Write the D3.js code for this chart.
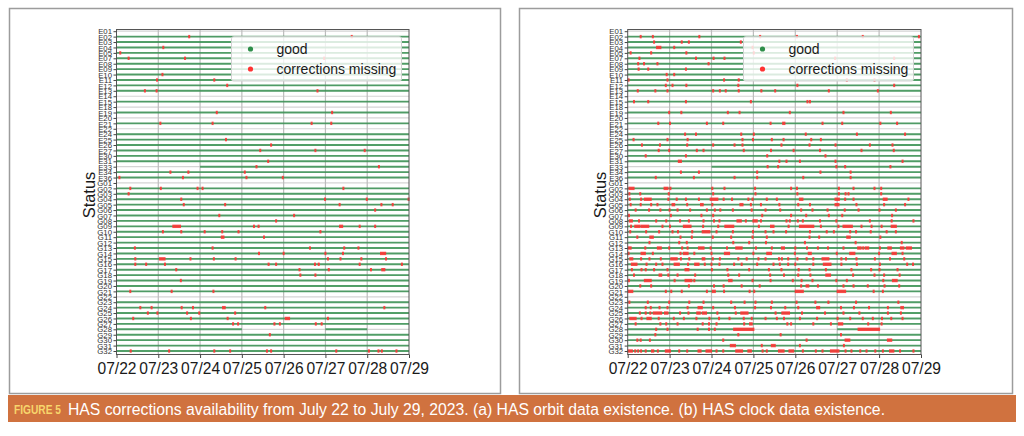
<!DOCTYPE html>
<html><head><meta charset="utf-8">
<script src="https://cdn.jsdelivr.net/npm/d3@7"></script>
<style>body{margin:0;background:#fff}svg{display:block}text{font-family:"Liberation Sans",Arial,sans-serif}</style>
</head><body><svg id="c" width="1024" height="436"></svg>
<script>
// ---------------- DATA ----------------
const dayLabels = ["07/22","07/23","07/24","07/25","07/26","07/27","07/28","07/29"];
const rowLabels = ["E01","E02","E03","E04","E05","E07","E08","E09","E10","E11","E12","E13","E14","E15","E18","E19","E20","E21","E22","E24","E25","E26","E27","E30","E31","E33","E34","E36",
 "G01","G02","G03","G04","G05","G06","G07","G08","G09","G10","G11","G12","G13","G14","G15","G16","G17","G18","G19","G20","G21","G22","G23","G24","G25","G26","G27","G28","G29","G30","G31","G32"];
// rows without any data, and rows with only partial coverage (days since 07/22)
const emptyRows = ["E01","E14","E18","E20","E22","G01","G22"];
const partialRows = {E33: [[2,7]], G28: [[0,3],[5,6]]};
const legendLabels = ["good","corrections missing"];
const captionTag = "FIGURE 5";
const captionText = "HAS corrections availability from July 22 to July 29, 2023. (a)  HAS orbit data existence. (b)  HAS clock data existence.";

// missing epochs (day offsets from 07/22); pairs are runs
const orbitMissing = [
 [],[1.74,5.63],[],[1.12],[0.09],[0.29,1.64,4.97],[],[],[1.10],[0.97,2.34],[2.65],[0.68,0.96,4.81],[],[],[],[2.40,5.16],[],[1.05,2.30,4.67,5.14],[],[],[2.62],[3.70],[3.44,4.76,5.94],[],[3.63],[3.35,6.28],[1.29,1.72,3.07],[0.07,1.59,3.11,3.98],
 [],[0.33,1.06,1.94,2.06,5.43],[0.29],[1.55,4.99,5.99,6.99],[1.61,2.60,5.34,6.34,6.61],[6.19],[2.46,4.25],[3.82],
 [[1.36,1.52],3.29,3.40,[5.35,5.40],5.82,6.19],[1.11,1.55,2.11,2.53,2.92,4.88],[[2.52,2.56],3.53],[],
 [0.44,2.30,4.63,5.45,5.79],[3.41,4.00,5.00,5.42,[6.33,6.43]],[0.45,[1.04,1.15],1.77,2.33,2.85,5.06,5.36,5.86,6.45],
 [0.45,0.71,1.16,3.64,3.82,4.75,4.84,5.82,6.83],[1.43,4.38,5.08,6.09,[6.36,6.41]],[4.40,4.76],[1.54],[],[0.33,1.32,2.32],[],[],
 [0.57,0.84,1.56,1.83,[2.55,2.59],3.56,6.41],[0.75,0.98,1.69,1.98,2.84],[0.40,1.78,2.66,[4.05,4.13],5.06],
 [2.79,2.91,3.78,3.91,4.77,4.91],[],[3.67],[],[],[0.34,1.26,2.34,2.72,3.60,3.70,5.26,6.04,6.27,6.35,6.70]
];
const clockMissing = [
 [],[0.31,0.60,1.71,3.16,4.04,5.61,6.95],[0.63,1.29,1.46,2.70],[[0.70,0.78],1.11,2.98],[0.07,0.56,1.40,3.01],
 [0.28,1.63,2.05,2.31,4.95,6.36],[0.25,0.39,0.71,1.93],[0.26,0.49,1.39],[0.93,1.11],[0.02,0.95,2.30,2.65,5.23,5.89],
 [0.91,1.07,1.40,2.64,4.05,6.36],[0.24,0.66,0.95,2.04,2.20,2.34,2.65,3.19,3.52,4.80,5.97],[],[0.15,0.49,1.39,2.94,4.29,4.35],[],
 [0.99,1.28,2.39,2.67,3.87,5.15,6.28],[],[0.73,1.01,1.89,2.28,3.41,[3.71,3.74],4.65,5.12,6.03,6.43],[],
 [1.37,1.63,2.71,3.01,4.25,5.47,6.62],[0.14,0.95,1.43,2.74,2.99,3.44,3.72,4.38,4.61],
 [0.34,0.77,1.42,2.04,2.55,2.74,3.67,4.34,4.96,5.78,6.32],[0.74,0.99,1.65,1.81,2.77,3.42,3.96,4.59,5.58,6.35],
 [0.43,1.39,3.33,4.72],[[1.22,1.27],3.62,3.79,4.11,4.96,6.56],[3.34,3.59,4.98,5.19,6.27],[1.27,1.70,3.09,4.60,5.32],[0.67,1.58,2.55,3.09,4.19,5.32],
 [],
 [[0.04,0.14],[0.88,0.95],1.02,2.02,2.31,3.04,3.90,4.04,5.04,5.39,5.89,6.05],
 [0.04,0.30,0.98,2.04,3.05,4.05,5.04,5.20,5.27,6.05],
 [0.05,0.32,[0.41,0.55],0.97,1.17,1.39,1.70,[1.98,2.14],2.29,2.49,2.88,2.98,3.32,3.56,[4.11,4.17],[4.96,5.04],5.19,5.39,[6.11,6.18],6.70],
 [0.07,0.31,0.56,0.71,[1.07,1.11],1.42,[1.75,1.79],2.02,[2.69,2.74],2.94,3.18,3.62,4.07,4.35,[4.96,5.03],5.46,6.12,6.62],
 [0.19,0.51,0.78,1.00,1.19,1.49,1.89,2.08,2.21,2.51,2.96,3.29,3.64,4.14,4.41,4.77,5.18,5.51,6.01,6.40],
 [0.03,1.03,1.76,2.04,3.21,3.90,4.26,4.80,5.12,6.31],
 [[0.05,0.10],0.27,0.68,0.92,1.25,1.46,1.81,2.06,2.19,[2.62,2.70],2.82,[3.00,3.08],3.18,3.79,3.87,4.06,4.18,4.59,4.98,5.78,6.30,6.82],
 [0.08,[0.18,0.28],[0.33,0.49],0.83,1.01,[1.34,1.50],1.80,2.16,[2.33,2.52],3.13,[3.42,3.48],3.84,[4.11,4.43],4.61,5.03,[5.15,5.35],5.58,5.82,6.06,[6.30,6.40]],
 [0.06,0.44,0.75,1.07,1.20,1.54,[1.79,1.95],2.12,2.51,2.99,3.29,3.48,3.78,4.35,4.75,4.92,5.31,5.45,5.80,6.18,6.40],
 [0.23,[0.54,0.60],1.26,1.53,2.03,2.47,2.98,3.32,4.34,4.57,[5.24,5.30],6.03],
 [0.52,1.23,1.41,2.52,2.90,3.30,4.23,5.44,6.54],
 [[0.03,0.07],0.42,[0.72,0.79],0.99,1.30,1.43,[1.70,1.81],1.98,2.37,[2.59,2.72],3.06,3.44,[3.68,3.73],4.00,4.28,4.54,4.78,5.15,[5.50,5.56],5.62,[5.68,5.74],6.02,[6.22,6.28],[6.52,6.58],[6.66,6.76]],
 [0.02,[0.33,0.41],0.60,1.26,[1.34,1.43],1.59,2.00,[2.32,2.42],3.00,[3.33,3.42],3.99,[4.32,4.37],4.99,[5.31,5.41],6.00,[6.32,6.40],6.56],
 [[0.06,0.11],0.32,0.52,0.79,[1.04,1.17],1.27,1.47,[1.79,1.83],2.03,2.20,2.64,2.84,3.12,3.29,3.61,3.68,3.83,4.05,4.27,4.43,[4.65,4.79],5.10,5.21,5.46,5.90,6.26,6.60],
 [[0.10,0.21],0.45,0.68,0.83,[1.12,1.22],1.44,[1.61,1.69],1.84,2.00,2.19,2.54,2.72,3.09,3.48,3.63,3.83,4.00,4.43,[4.68,4.84],5.10,5.47,6.02,6.67,6.81],
 [0.10,0.33,0.43,0.63,0.95,[1.38,1.45],2.01,2.38,2.90,3.37,3.67,4.08,4.34,4.73,5.34,5.81,6.01,6.44],
 [0.15,[0.76,0.80],0.97,1.19,1.61,2.40,2.66,3.40,3.73,4.07,4.36,[4.74,4.83],5.38,5.89,6.12,6.49],
 [0.03,[0.41,0.55],1.12,[1.38,1.52],1.59,[2.42,2.48],2.98,3.41,3.94,4.15,4.41,4.98,5.23,6.10,[6.33,6.42]],
 [0.30,0.56,1.46,2.06,2.29,2.72,3.15,4.14,[4.27,4.31],4.54,5.15,5.39,5.73,6.13,6.48],
 [[0.03,0.11],0.91,1.04,1.29,1.89,[2.03,2.08],2.30,2.91,3.02,[4.01,4.18],[5.01,5.19],5.87,6.09],
 [],
 [0.04,0.48,0.99,1.47,1.81,2.47,2.79,3.05,3.44,4.03,4.48,4.79,5.45,6.46],
 [0.43,0.55,0.76,0.95,1.43,[1.69,1.77],2.04,2.56,3.04,3.42,3.76,4.07,[4.52,4.57],5.09,5.40,5.76,6.21,[6.53,6.57]],
 [0.29,0.43,0.54,[0.62,0.80],[0.89,0.95],1.25,1.45,[1.66,1.72],[1.79,1.87],2.14,2.58,[2.71,2.86],3.53,[3.69,3.85],4.16,4.71,5.15,5.53,6.21,6.52],
 [[0.06,0.19],0.33,[0.47,0.55],0.74,1.10,1.34,1.64,1.95,2.18,2.43,2.77,2.96,3.29,3.56,3.73,4.11,4.52,5.01,5.31,5.61,5.85,6.07,6.29,6.56],
 [0.19,0.78,0.92,1.19,1.79,1.94,2.12,2.78,[2.92,2.96],3.81,3.90,4.43,4.85,[5.04,5.12],5.74,6.06],
 [0.68,0.95,1.67,1.94,2.08,[2.54,3.00],[5.51,6.00]],
 [0.66,2.64,3.65,5.09],
 [0.23,0.31,0.53,2.28,4.27,[5.20,5.29],[6.21,6.29]],
 [[2.46,2.56],3.20,[3.44,3.51],4.11,5.16],
 [[0.02,0.10],0.18,0.25,0.32,0.43,[0.58,0.61],0.72,[0.91,1.01],1.23,1.42,[1.69,1.74],[1.88,1.99],2.12,2.28,[2.59,2.73],[2.88,2.94],3.22,3.32,[3.61,3.72],[3.86,3.95],4.18,4.49,4.65,[4.85,5.03],5.20,5.34,5.55,5.70,5.91,6.09,[6.26,6.34],6.50,6.82]
];

// ---------------- DRAW ----------------
const svg = d3.select("#c");
const GREEN = "#2e8e4a", RED = "#ff3333";

function coverage(r){
  if (emptyRows.includes(r)) return [];
  return partialRows[r] || [[0,7]];
}

function panel(frame, x0, x1, missing, statusX){
  svg.append("rect").attr("x",frame[0]+0.5).attr("y",8.5).attr("width",frame[1]-frame[0]).attr("height",385)
     .attr("fill","#fff").attr("stroke","#9c9c9c").attr("stroke-width",1.5);
  const x = d3.scaleLinear().domain([0,7]).range([x0,x1]);
  const y = d3.scalePoint().domain(rowLabels).range([31.2,351]);
  const top = 29.5, bot = 354.5;
  const g = svg.append("g");
  // grid
  g.selectAll(".hg").data(rowLabels).join("line")
    .attr("x1",x0).attr("x2",x1).attr("y1",d=>y(d)).attr("y2",d=>y(d))
    .attr("stroke","#d4d4d4").attr("stroke-width",1.2);
  g.selectAll(".vg").data(d3.range(1,7)).join("line")
    .attr("x1",d=>x(d)).attr("x2",d=>x(d)).attr("y1",top).attr("y2",bot)
    .attr("stroke","#bdbdbd").attr("stroke-width",1.2);
  // good coverage
  rowLabels.forEach(r=>{
    coverage(r).forEach(s=>{
      g.append("line").attr("x1",x(s[0])).attr("x2",x(s[1])).attr("y1",y(r)).attr("y2",y(r))
       .attr("stroke",GREEN).attr("stroke-width",1.9).attr("opacity",0.8);
    });
  });
  // missing
  missing.forEach((arr,i)=>{
    const r = rowLabels[i];
    arr.forEach(v=>{
      const a = Array.isArray(v)?v[0]:v, b = Array.isArray(v)?v[1]:v;
      const xa = x(a), xb = x(b);
      g.append("rect").attr("x",xa-1).attr("y",y(r)-1.7).attr("width",Math.max(2,xb-xa+2)).attr("height",3.4)
       .attr("fill",RED).attr("opacity",0.88);
    });
  });
  // frame
  g.append("rect").attr("x",x0).attr("y",top).attr("width",x1-x0).attr("height",bot-top)
   .attr("fill","none").attr("stroke","#555").attr("stroke-width",1);
  // axes
  const ya = g.append("g").attr("transform",`translate(${x0},0)`)
    .call(d3.axisLeft(y).tickSize(3).tickPadding(1.5).tickSizeOuter(0));
  ya.select(".domain").remove();
  ya.selectAll("line").attr("stroke","#444");
  ya.selectAll("text").attr("font-size",7.8).attr("fill","#333").attr("dy","0.34em");
  const xa = g.append("g").attr("transform",`translate(0,${bot})`)
    .call(d3.axisBottom(x).tickValues(d3.range(8)).tickFormat(i=>dayLabels[i]).tickSize(3.5).tickPadding(5).tickSizeOuter(0));
  xa.select(".domain").remove();
  xa.selectAll("line").attr("stroke","#444");
  xa.selectAll("text").attr("font-size",15.6).attr("fill","#1a1a1a");
  // y title
  svg.append("text").text("Status").attr("text-anchor","middle").attr("dy","0.35em")
    .attr("transform",`translate(${statusX},195) rotate(-90)`)
    .attr("font-size",16.4).attr("fill","#1a1a1a");
  // legend
  const lx = x1-7.5-170, ly = 36.7;
  const lg = svg.append("g");
  lg.append("rect").attr("x",lx).attr("y",ly).attr("width",170).attr("height",44.3).attr("rx",2)
    .attr("fill","#fff").attr("fill-opacity",0.8).attr("stroke","#d2d2d2");
  [GREEN, RED].forEach((c,i)=>{
    lg.append("circle").attr("cx",lx+19).attr("cy",ly+12.3+20*i).attr("r",2.6).attr("fill",c);
    lg.append("text").text(legendLabels[i]).attr("x",lx+45).attr("y",ly+12.3+20*i+4.8)
      .attr("font-size",14).attr("fill","#1a1a1a");
  });
}

panel([9,500], 116.5, 409, orbitMissing, 89.5);
panel([519,1012], 627.7, 921, clockMissing, 600);

// caption band
svg.append("rect").attr("x",8).attr("y",395).attr("width",1008).attr("height",27).attr("fill","#d0723f");
svg.append("text").text(captionTag).attr("x",14).attr("y",414).attr("font-size",12.5).attr("font-weight","bold")
  .attr("fill","#f7d56c").attr("textLength",47).attr("lengthAdjust","spacingAndGlyphs");
svg.append("text").text(captionText).attr("x",68).attr("y",414.5).attr("font-size",16)
  .attr("fill","#fff").attr("textLength",817).attr("lengthAdjust","spacingAndGlyphs");
</script></body></html>
